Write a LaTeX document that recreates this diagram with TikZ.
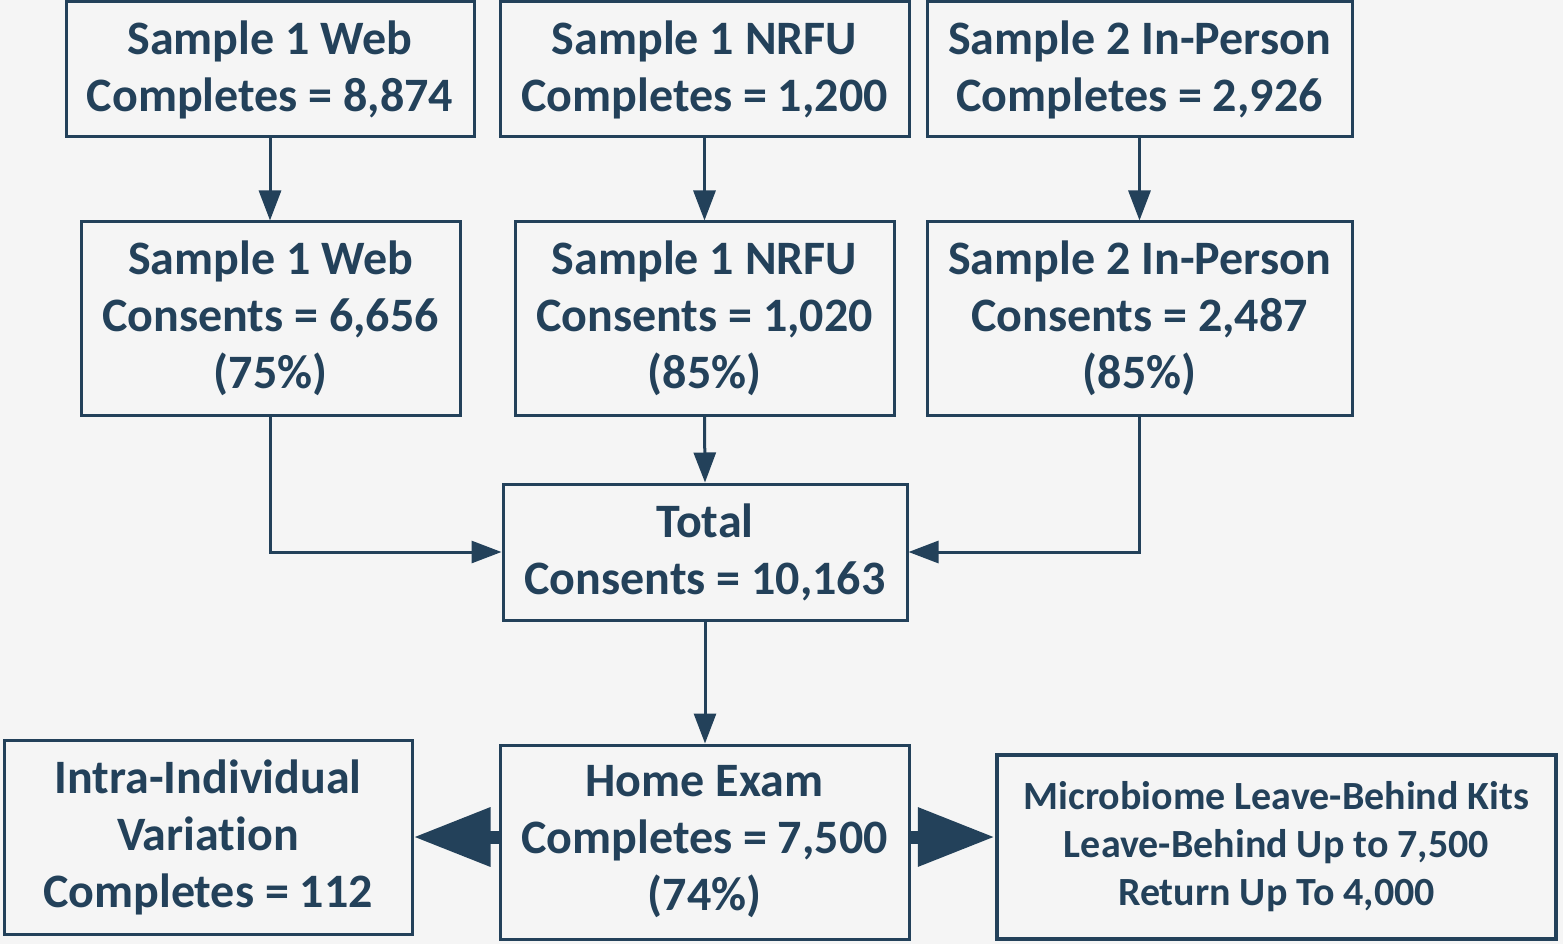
\documentclass[tikz,border=0pt]{standalone}
\usepackage{fontspec}
\setmainfont{Carlito}[Ligatures=NoCommon]
\usetikzlibrary{arrows.meta}
\definecolor{navy}{HTML}{23415A}
\definecolor{paper}{HTML}{F5F5F5}

\begin{document}
\begin{tikzpicture}[x=1pt, y=-1pt, >={Triangle[length=30pt,width=22pt]},
  box/.style={draw=navy, line width=3pt, text=navy, align=center, inner sep=0pt,
    font=\fontsize{48}{57}\selectfont\bfseries},
  link/.style={->, draw=navy, line width=3pt},
  fat/.style={draw=navy, fill=navy, line width=13pt, -{Triangle[length=77pt,width=56pt]}}]

% Background and page size
\fill[paper] (0,0) rectangle (1563,944);

% Top row: completes
\node[box, minimum width=408pt, minimum height=135pt] (web1) at (270,69.5) {Sample 1 Web\\Completes = 8,874};
\node[box, minimum width=409pt, minimum height=135pt] (nrfu1) at (704.5,69.5) {Sample 1 NRFU\\Completes = 1,200};
\node[box, minimum width=425pt, minimum height=135pt] (ip1) at (1139.5,69.5) {Sample 2 In-Person\\Completes = 2,926};

% Second row: consents
\node[box, minimum width=379pt, minimum height=193pt] (web2) at (270.5,318.5) {Sample 1 Web\\Consents = 6,656\\(75\%)};
\node[box, minimum width=379pt, minimum height=193pt] (nrfu2) at (704.5,318.5) {Sample 1 NRFU\\Consents = 1,020\\(85\%)};
\node[box, minimum width=425pt, minimum height=193pt] (ip2) at (1139.5,318.5) {Sample 2 In-Person\\Consents = 2,487\\(85\%)};

% Total
\node[box, minimum width=404pt, minimum height=136pt] (total) at (705,552) {Total\\Consents = 10,163};

% Bottom row
\node[box, minimum width=409pt, minimum height=194pt] (home) at (704.5,842) {Home Exam\\Completes = 7,500\\(74\%)};
\node[box, minimum width=408pt, minimum height=194pt] (intra) at (208,837) {Intra-Individual\\Variation\\Completes = 112};
\node[box, line width=4.5pt, minimum width=559pt, minimum height=184pt,
  font=\fontsize{40}{48}\selectfont\bfseries] (micro) at (1276.5,847) {Microbiome Leave-Behind Kits\\Leave-Behind Up to 7,500\\Return Up To 4,000};

% Connectors
\draw[link] (web1.south) -- (web1.south |- web2.north);
\draw[link] (nrfu1.south) -- (nrfu2.north);
\draw[link] (ip1.south) -- (ip2.north);
\draw[link] (web2.south) |- (total.west);
\draw[link] (ip2.south) |- (total.east);
\draw[link] (nrfu2.south) -- (total.north);
\draw[link] (total.south) -- (total.south |- home.north);

% Big arrows out of the home exam
\draw[fat] (home.west |- intra.east) -- (intra.east);
\draw[fat] (home.east |- intra.east) -- (micro.west |- intra.east);

\end{tikzpicture}
\end{document}
